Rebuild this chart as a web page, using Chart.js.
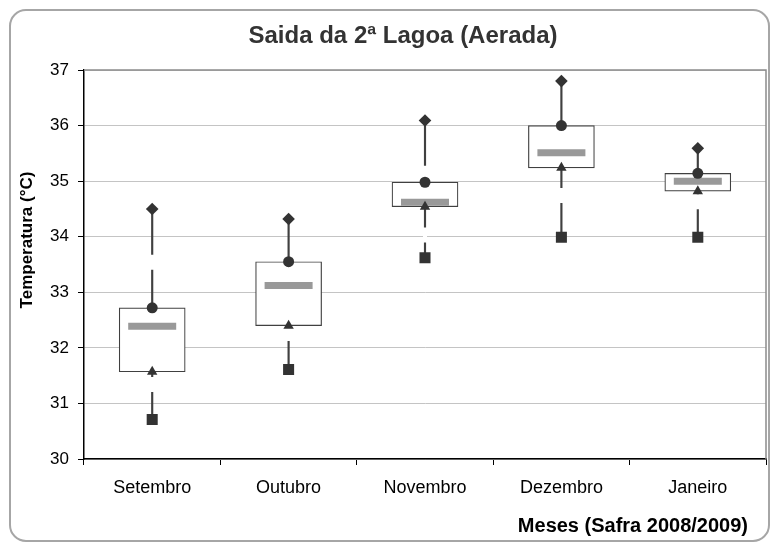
<!DOCTYPE html>
<html>
<head>
<meta charset="utf-8">
<title>Saida da 2ª Lagoa (Aerada)</title>
<script src="https://cdn.jsdelivr.net/npm/chart.js@4.4.1/dist/chart.umd.min.js"></script>
<style>
    body { margin: 0; background: #fff; }
    #chart { display: block; }
</style>
</head>
<body>
<canvas id="chart" width="770" height="543"></canvas>
<script>
/* dados */
var meses = ["Setembro", "Outubro", "Novembro", "Dezembro", "Janeiro"];
var maximo = [34.50, 34.32, 36.09, 36.80, 35.59];
var quartil3 = [32.72, 33.55, 34.98, 36.00, 35.14];
var mediana = [32.39, 33.12, 34.62, 35.51, 35.00];
var quartil1 = [31.57, 32.40, 34.54, 35.24, 34.82];
var minimo = [30.71, 31.61, 33.62, 33.99, 33.99];

// small breaks seen in the whisker lines
var corteSup = [33.54, null, 35.14, null, null];
var corteInf = [31.34, 32.26, 34.03, 34.74, 34.63];

var yTicks = [30, 31, 32, 33, 34, 35, 36, 37];

var fonte = '"Liberation Sans", Arial, sans-serif';
var escuro = "#333333";

/* moldura + títulos dos eixos */
var moldura = {
    id: 'moldura',
    beforeDraw: function(chart) {
        var ctx = chart.ctx;
        ctx.save();
        ctx.fillStyle = "#fff";
        ctx.fillRect(0, 0, chart.width, chart.height);
        ctx.strokeStyle = "#a6a6a6";
        ctx.lineWidth = 2;
        ctx.beginPath();
        ctx.roundRect(10, 10, 759, 531, 16);
        ctx.stroke();
        ctx.restore();
    },
    beforeDatasetsDraw: function(chart) {
        var ctx = chart.ctx;
        var area = chart.chartArea;
        ctx.save();
        ctx.strokeStyle = "#8c8c8c";
        ctx.lineWidth = 1.5;
        ctx.beginPath();
        ctx.moveTo(area.left, area.top);
        ctx.lineTo(area.right, area.top);
        ctx.lineTo(area.right, area.bottom);
        ctx.stroke();
        ctx.restore();
    },
    afterDraw: function(chart) {
        var ctx = chart.ctx;
        var area = chart.chartArea;
        ctx.save();
        ctx.fillStyle = "#000";
        ctx.textBaseline = "middle";

        ctx.font = "bold 20px " + fonte;
        ctx.textAlign = "right";
        ctx.fillText("Meses (Safra 2008/2009)", area.right - 18, 526);

        ctx.font = "bold 17px " + fonte;
        ctx.textAlign = "center";
        ctx.translate(27, 240);
        ctx.rotate(-Math.PI / 2);
        ctx.fillText("Temperatura (°C)", 0, 0);
        ctx.restore();
    }
};

var bigodes = meses.map(function(m, i) { return [minimo[i], maximo[i]]; });
var caixas = meses.map(function(m, i) { return [quartil1[i], quartil3[i]]; });

function marcador(label, dados, estilo, raio) {
    return {
        type: 'line',
        label: label,
        data: dados,
        showLine: false,
        pointStyle: estilo,
        pointRadius: raio,
        pointHoverRadius: raio,
        pointBackgroundColor: escuro,
        pointBorderWidth: 0,
        order: 1
    };
}

var ctx = document.getElementById("chart").getContext("2d");
window.theChart = new Chart(ctx, {
    type: 'bar',
    data: {
        labels: meses,
        datasets: [{
            label: 'bigode',
            data: bigodes,
            backgroundColor: "#404040",
            borderWidth: 0,
            barThickness: 1.5,
            grouped: false,
            order: 6
        }, {
            type: 'line',
            label: 'corte sup',
            data: corteSup,
            showLine: false,
            pointStyle: 'line',
            pointRotation: 90,
            pointRadius: 7.5,
            pointBorderWidth: 4,
            pointBorderColor: "#fff",
            order: 5
        }, {
            type: 'line',
            label: 'corte inf',
            data: corteInf,
            showLine: false,
            pointStyle: 'line',
            pointRotation: 90,
            pointRadius: 7.5,
            pointBorderWidth: 4,
            pointBorderColor: "#fff",
            order: 5
        }, {
            label: 'caixa',
            data: caixas,
            backgroundColor: "#fff",
            borderColor: "#404040",
            borderWidth: 1.2,
            borderSkipped: false,
            barThickness: 66,
            grouped: false,
            order: 4
        }, {
            type: 'line',
            label: 'mediana',
            data: mediana,
            showLine: false,
            pointStyle: 'line',
            pointRadius: 24,
            pointBorderWidth: 7,
            pointBorderColor: "#999999",
            order: 3
        },
            marcador('máximo', maximo, 'rectRot', 6.3),
            marcador('3º quartil', quartil3, 'circle', 5.5),
            marcador('1º quartil', quartil1, 'triangle', 6),
            marcador('mínimo', minimo, 'rect', 7.8)
        ]
    },
    options: {
        responsive: false,
        animation: false,
        events: [],
        layout: {
            autoPadding: false,
            padding: { left: 40, right: 4, top: 0, bottom: 0 }
        },
        plugins: {
            legend: { display: false },
            tooltip: { enabled: false },
            title: {
                display: true,
                text: "Saida da 2ª Lagoa (Aerada)",
                color: "#333",
                font: { family: fonte, size: 24, weight: 'bold' },
                padding: { top: 22, bottom: 19.2 }
            }
        },
        scales: {
            x: {
                afterFit: function(scale) {
                    scale.height = 84;
                    scale.paddingLeft = 0;
                    scale.paddingRight = 0;
                },
                grid: {
                    drawOnChartArea: false,
                    offset: true,
                    tickLength: 6,
                    tickColor: "#000"
                },
                border: { color: "#000", width: 1.5 },
                ticks: {
                    color: "#000",
                    padding: 12,
                    maxRotation: 0,
                    autoSkip: false,
                    font: { family: fonte, size: 18 }
                }
            },
            y: {
                min: yTicks[0],
                max: yTicks[yTicks.length - 1],
                afterFit: function(scale) { scale.width = 44; },
                afterBuildTicks: function(scale) {
                    scale.ticks = yTicks.map(function(v) { return { value: v }; });
                },
                grid: {
                    color: "#c4c4c4",
                    tickLength: 6,
                    tickColor: "#000"
                },
                border: { color: "#000", width: 1.5 },
                ticks: {
                    color: "#000",
                    padding: 9,
                    font: { family: fonte, size: 17 }
                }
            }
        }
    },
    plugins: [moldura]
});
</script>
</body>
</html>
